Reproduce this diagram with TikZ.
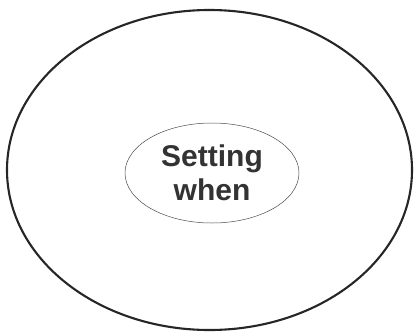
\documentclass[tikz,border=0pt]{standalone}
\usepackage{fontspec}
\setmainfont{Liberation Sans}
\usetikzlibrary{shapes.geometric}
\begin{document}
\begin{tikzpicture}[x=1pt,y=1pt,
  outerring/.style={ellipse, draw=black!85, line width=2.1pt, inner sep=0pt, minimum width=405pt, minimum height=320pt},
  innerring/.style={ellipse, draw=black!70, line width=0.5pt, inner sep=0pt, minimum width=174pt, minimum height=100pt,
     align=center, font=\fontsize{30}{34}\selectfont\bfseries, text=black!80}]
\useasboundingbox (0,0) rectangle (414,333);
\node[outerring] (outer) at (209.5,163) {};
\node[innerring] (inner) at (212,160) {Setting\\when};
\end{tikzpicture}
\end{document}
